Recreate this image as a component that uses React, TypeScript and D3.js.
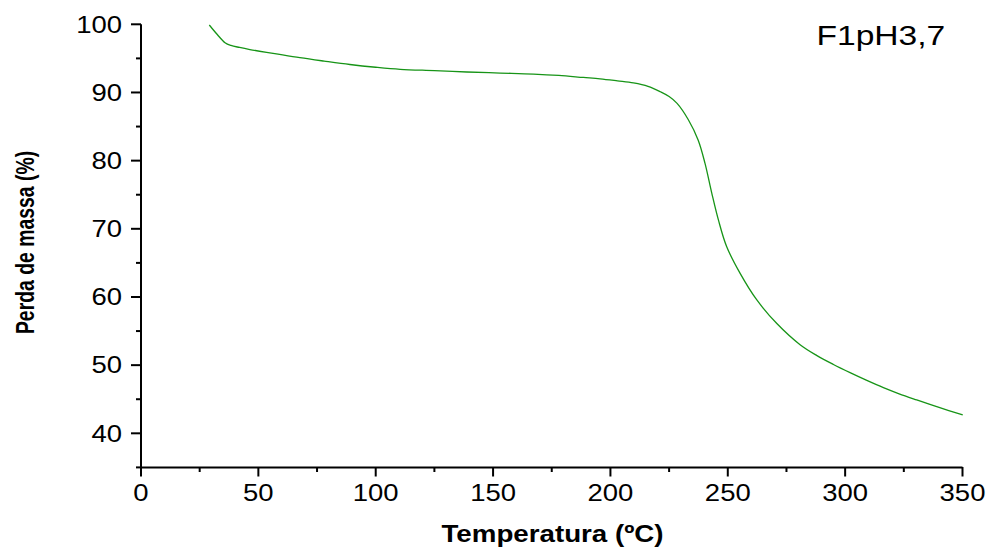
import React from "react";
import * as d3 from "d3";

const temperature = [29.1, 32.5, 35.8, 38.3, 42, 46.4, 57, 67.7, 78, 89.0, 100, 110.4, 125, 138.8, 153, 167.2, 178, 188.5, 195.6, 203, 209.8, 216, 221.3, 225, 228.4, 233.2, 237.4, 240.3, 243.2, 246.0, 249.5, 255.2, 262.3, 270.9, 280.8, 288, 295, 302.1, 309, 316.3, 323, 330.5, 340, 350.1];
const mass = [99.9, 98.5, 97.3, 96.9, 96.6, 96.3, 95.7, 95.1, 94.6, 94.1, 93.7, 93.4, 93.2, 93.0, 92.85, 92.7, 92.5, 92.2, 92.0, 91.7, 91.4, 90.9, 90.1, 89.4, 88.4, 86.0, 83.0, 79.6, 75.2, 71.3, 67.4, 63.5, 59.6, 56.1, 53.0, 51.4, 50.1, 48.9, 47.8, 46.7, 45.8, 44.9, 43.8, 42.7];

const xMajor = [0, 50, 100, 150, 200, 250, 300, 350];
const xMinor = [25, 75, 125, 175, 225, 275, 325];
const yMajor = [40, 50, 60, 70, 80, 90, 100];
const yMinor = [35, 45, 55, 65, 75, 85, 95];

const sampleLabel = "F1pH3,7";
const xTitle = "Temperatura (ºC)";
const yTitle = "Perda de massa (%)";

export default function App() {
  const W = 992;
  const H = 547;
  const x = d3.scaleLinear().domain([0, 350]).range([141, 962.5]);
  const y = d3.scaleLinear().domain([35, 100]).range([467.4, 24.3]);
  const pts = temperature.map((t, i) => [t, mass[i]] as [number, number]);
  const line = d3
    .line<[number, number]>()
    .x((d) => x(d[0]))
    .y((d) => y(d[1]))
    .curve(d3.curveCatmullRom.alpha(0.5));
  const font = "Arial, 'Liberation Sans', sans-serif";
  const sx = 1.18;
  return (
    <svg
      width={W}
      height={H}
      style={{ position: "absolute", left: 0, top: 0, background: "#fff" }}
    >
      <rect width={W} height={H} fill="#fff" />
      <line x1={x(0)} x2={x(350)} y1={467.4} y2={467.4} stroke="#000" strokeWidth={2} />
      <line x1={141} x2={141} y1={y(100)} y2={468.4} stroke="#000" strokeWidth={2} />
      {xMajor.map((v) => (
        <line key={"xM" + v} x1={x(v)} x2={x(v)} y1={467} y2={476.5} stroke="#000" strokeWidth={2} />
      ))}
      {xMinor.map((v) => (
        <line key={"xm" + v} x1={x(v)} x2={x(v)} y1={467} y2={472} stroke="#000" strokeWidth={2} />
      ))}
      {yMajor.map((v) => (
        <line key={"yM" + v} x1={131} x2={141} y1={y(v)} y2={y(v)} stroke="#000" strokeWidth={2} />
      ))}
      {yMinor.map((v) => (
        <line key={"ym" + v} x1={136} x2={141} y1={y(v)} y2={y(v)} stroke="#000" strokeWidth={2} />
      ))}
      {xMajor.map((v) => (
        <g key={"xl" + v} transform={`translate(${x(v)},500.5) scale(${sx},1)`}>
          <text textAnchor="middle" fontFamily={font} fontSize={23.3} fill="#000">
            {v}
          </text>
        </g>
      ))}
      {yMajor.map((v) => (
        <g key={"yl" + v} transform={`translate(122,${y(v) + 8.3}) scale(${sx},1)`}>
          <text textAnchor="end" fontFamily={font} fontSize={23.3} fill="#000">
            {v}
          </text>
        </g>
      ))}
      <g transform={`translate(${(440 + 665) / 2},541.5) scale(1.19,1)`}>
        <text textAnchor="middle" fontFamily={font} fontWeight="bold" fontSize={23.3} fill="#000">
          {xTitle}
        </text>
      </g>
      <g transform={`translate(34,242.5) scale(1.3,1) rotate(-90)`}>
        <text textAnchor="middle" fontFamily={font} fontWeight="bold" fontSize={19.4} fill="#000">
          {yTitle}
        </text>
      </g>
      <g transform={`translate(816.5,45) scale(1.2,1)`}>
        <text textAnchor="start" fontFamily={font} fontSize={28} fill="#000">
          {sampleLabel}
        </text>
      </g>
      <path d={line(pts) || ""} fill="none" stroke="#179417" strokeWidth={1.3} />
    </svg>
  );
}
